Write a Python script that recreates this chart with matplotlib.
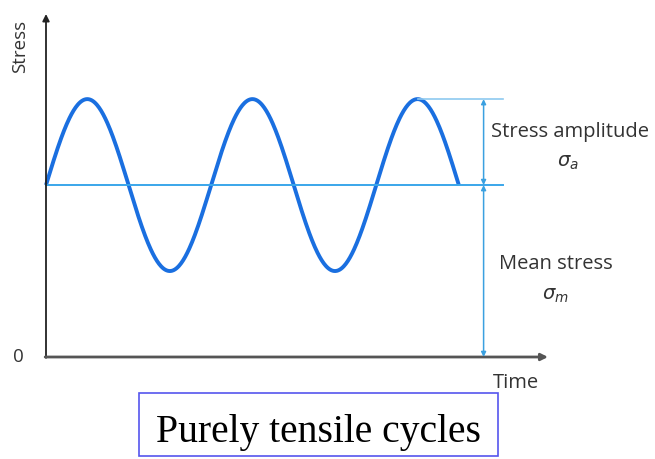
import numpy as np
import matplotlib
matplotlib.use("Agg")
import matplotlib.pyplot as plt
from matplotlib.patches import Rectangle

# schematic values (in units of the stress amplitude / one period)
mean_stress = 2.0
stress_amplitude = 1.0
n_cycles = 2.5
x_max = 3.04
y_max = 3.99
line_end = 2.77
arrow_x = 2.65
peak_x = 2.25

label_mean = "Mean stress"
label_amp = "Stress amplitude"
title_text = "Purely tensile cycles"

W, H = 655, 460
fig = plt.figure(figsize=(W / 100, H / 100), dpi=100)
ax = fig.add_axes([46 / W, 102 / H, (548 - 46) / W, (445 - 102) / H])
ax.set_xlim(0, x_max)
ax.set_ylim(0, y_max)
ax.axis("off")

sans = ["Open Sans", "DejaVu Sans"]
txt = "#333333"

# stress signal
t = np.linspace(0, n_cycles, 600)
s = mean_stress + stress_amplitude * np.sin(2 * np.pi * t)
ax.plot(t, s, color="#1a6fe0", lw=2.8, solid_capstyle="butt", clip_on=False)

# mean and peak reference lines
ax.plot([0, line_end], [mean_stress, mean_stress], color="#3aa6ea", lw=1.4, clip_on=False)
ax.plot([peak_x, line_end], [mean_stress + stress_amplitude] * 2,
        color="#8ec9f0", lw=1.2, clip_on=False)

# axes arrows
ax.annotate("", xy=(0, y_max), xytext=(0, -0.01),
            arrowprops=dict(arrowstyle="-|>", color="#222222", lw=1.3,
                            mutation_scale=10, shrinkA=0, shrinkB=0))
ax.annotate("", xy=(x_max, 0), xytext=(-0.005, 0),
            arrowprops=dict(arrowstyle="-|>", color="#555555", lw=2.0,
                            mutation_scale=10, shrinkA=0, shrinkB=0))

# dimension arrows
arr = dict(arrowstyle="<|-|>", color="#3aa0e0", lw=1.1, mutation_scale=7,
           shrinkA=0, shrinkB=0)
ax.annotate("", xy=(arrow_x, mean_stress + stress_amplitude),
            xytext=(arrow_x, mean_stress), arrowprops=arr)
ax.annotate("", xy=(arrow_x, mean_stress), xytext=(arrow_x, 0), arrowprops=arr)

# labels (figure pixel coordinates)
def ftext(x, y, s, **kw):
    fig.text(x / W, 1 - y / H, s, **kw)

ftext(20, 46, "Stress", rotation=90, ha="center", va="center",
      fontsize=13.5, family=sans, color=txt)
ftext(18, 357, "0", ha="center", va="center", fontsize=13.5, family=sans, color=txt)
ftext(516, 383, "Time", ha="center", va="center", fontsize=14.5, family=sans, color=txt)
ftext(570, 132, label_amp, ha="center", va="center", fontsize=14.5, family=sans, color=txt)
ftext(568, 163, r"$\sigma_a$", ha="center", va="center", fontsize=14, color=txt)
ftext(556, 264, label_mean, ha="center", va="center", fontsize=14.5, family=sans, color=txt)
ftext(555, 296, r"$\sigma_m$", ha="center", va="center", fontsize=14, color=txt)

# title box
fig.patches.append(Rectangle((139 / W, 1 - 457 / H), (498 - 139) / W, (457 - 394) / H,
                             transform=fig.transFigure, fc="white", ec="#5555ee",
                             lw=1.2, zorder=0))
ftext(318.5, 442, title_text, ha="center", va="baseline", fontsize=28.5,
      family=["Liberation Serif", "DejaVu Serif"], color="black")

fig.savefig("out.png", dpi=100)
